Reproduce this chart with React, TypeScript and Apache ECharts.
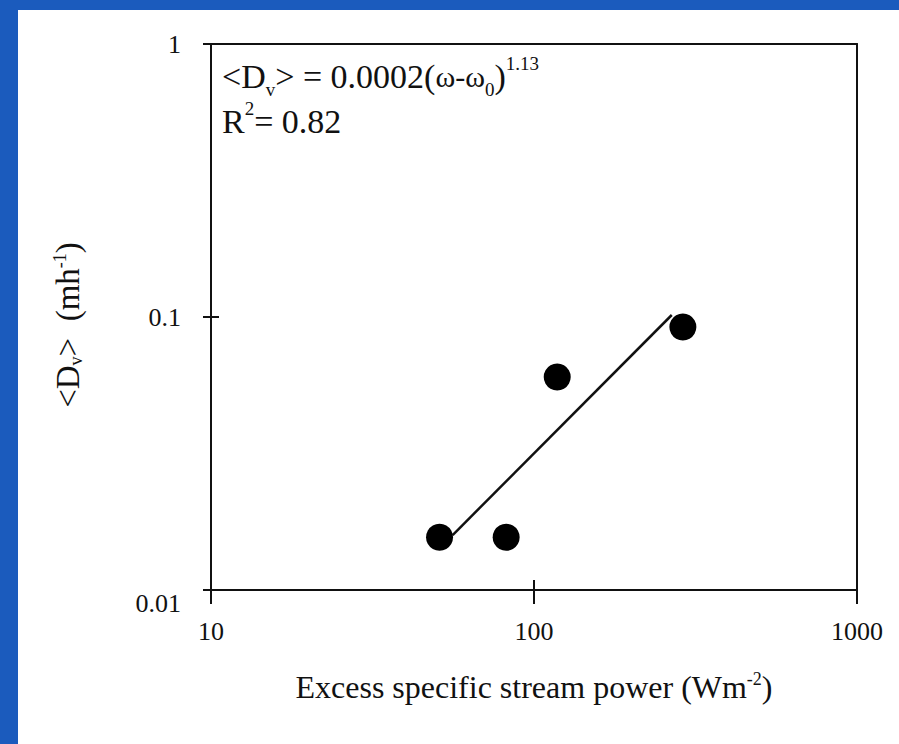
import React, { useEffect, useRef } from "react";
import * as echarts from "echarts";

const xTicks = [10, 100, 1000];
const yTicks = [0.01, 0.1, 1];
const xTickLabels = ["10", "100", "1000"];
const yTickLabels = ["0.01", "0.1", "1"];
const pointsX = [51, 82, 118, 289];
const pointsY = [0.0156, 0.0156, 0.0603, 0.0919];
const fitX = [56, 267];
const fitY = [0.0159, 0.1017];

const FONT = "Liberation Serif";

export default function App() {
  const ref = useRef<HTMLDivElement>(null);
  useEffect(() => {
    if (!ref.current) return;
    const chart = echarts.init(ref.current, null, { renderer: "svg" });
    const fmtX = (v: number) => {
      const i = xTicks.findIndex((t) => Math.abs(Math.log10(t) - Math.log10(v)) < 1e-6);
      return i >= 0 ? xTickLabels[i] : "";
    };
    const fmtY = (v: number) => {
      const i = yTicks.findIndex((t) => Math.abs(Math.log10(t) - Math.log10(v)) < 1e-6);
      return i >= 0 ? yTickLabels[i] : "";
    };
    const lineCol = "#111111";
    const baseLog = {
      type: "log",
      logBase: 10,
      splitLine: { show: false },
      minorTick: { show: false },
    };
    chart.setOption({
      animation: false,
      backgroundColor: "#ffffff",
      grid: { left: 193, right: 42, top: 34, bottom: 154, containLabel: false },
      xAxis: [
        {
          ...baseLog,
          position: "bottom",
          min: 10,
          max: 1000,
          axisLine: { show: true, onZero: false, lineStyle: { color: lineCol, width: 2 } },
          axisTick: { show: true, inside: false, length: 14, lineStyle: { color: lineCol, width: 2 } },
          axisLabel: {
            formatter: fmtX,
            fontFamily: FONT,
            fontSize: 26,
            color: "#111",
            margin: 28,
          },
          name: "{a|Excess specific stream power (Wm}{p|-2}{a|)}",
          nameLocation: "middle",
          nameGap: 80,
          nameTextStyle: {
            rich: {
              a: { fontFamily: FONT, fontSize: 32, color: "#111", lineHeight: 34 },
              p: { fontFamily: FONT, fontSize: 18, color: "#111", lineHeight: 34, verticalAlign: "top" },
            },
          },
        },
        {
          ...baseLog,
          position: "bottom",
          min: 10,
          max: 1000,
          axisLine: { show: false, onZero: false },
          axisTick: { show: true, inside: true, length: 10, lineStyle: { color: lineCol, width: 2 } },
          axisLabel: { show: false },
        },
        {
          ...baseLog,
          position: "top",
          min: 10,
          max: 1000,
          axisLine: { show: true, onZero: false, lineStyle: { color: lineCol, width: 2 } },
          axisTick: { show: false },
          axisLabel: { show: false },
        },
      ],
      yAxis: [
        {
          ...baseLog,
          position: "left",
          min: 0.01,
          max: 1,
          axisLine: { show: true, onZero: false, lineStyle: { color: lineCol, width: 2 } },
          axisTick: { show: true, inside: false, length: 8, lineStyle: { color: lineCol, width: 2 } },
          axisLabel: {
            formatter: fmtY,
            fontFamily: FONT,
            fontSize: 26,
            color: "#111",
            margin: 30,
            verticalAlignMinLabel: "top",
          },
          name: "{a|<D}{s|v}{a|>  (mh}{p|-1}{a|)}",
          nameLocation: "middle",
          nameRotate: 90,
          nameGap: 126,
          nameTextStyle: {
            padding: [0, 16, 0, 0],
            rich: {
              a: { fontFamily: FONT, fontSize: 33, color: "#111", lineHeight: 34 },
              s: { fontFamily: FONT, fontSize: 18, color: "#111", lineHeight: 34, verticalAlign: "bottom" },
              p: { fontFamily: FONT, fontSize: 18, color: "#111", lineHeight: 34, verticalAlign: "top" },
            },
          },
        },
        {
          ...baseLog,
          position: "left",
          min: 0.01,
          max: 1,
          axisLine: { show: false, onZero: false },
          axisTick: { show: true, inside: true, length: 8, lineStyle: { color: lineCol, width: 2 } },
          axisLabel: { show: false },
        },
        {
          ...baseLog,
          position: "right",
          min: 0.01,
          max: 1,
          axisLine: { show: true, onZero: false, lineStyle: { color: lineCol, width: 2 } },
          axisTick: { show: false },
          axisLabel: { show: false },
        },
      ],
      graphic: [
        {
          type: "text",
          left: 204,
          top: 44,
          style: {
            text: "{a|<D}{s|v}{a|> = 0.0002(}{w|ω-ω}{s|0}{a|)}{p|1.13}\n{a|R}{p|2}{a|= 0.82}",
            rich: {
              a: { fontFamily: FONT, fontSize: 34, fill: "#111", lineHeight: 45 },
              w: { fontFamily: FONT, fontSize: 30, fill: "#111", lineHeight: 45 },
              s: { fontFamily: FONT, fontSize: 19, fill: "#111", lineHeight: 40, verticalAlign: "bottom" },
              p: { fontFamily: FONT, fontSize: 19, fill: "#111", lineHeight: 45, verticalAlign: "top" },
            },
          },
        },
      ],
      series: [
        {
          type: "line",
          xAxisIndex: 0,
          yAxisIndex: 0,
          data: fitX.map((x, i) => [x, fitY[i]]),
          symbol: "none",
          lineStyle: { color: "#111", width: 2.5 },
          z: 2,
        },
        {
          type: "scatter",
          xAxisIndex: 0,
          yAxisIndex: 0,
          data: pointsX.map((x, i) => [x, pointsY[i]]),
          symbol: "circle",
          symbolSize: 27,
          itemStyle: { color: "#000", opacity: 1 },
          z: 3,
        },
      ],
    });
    return () => chart.dispose();
  }, []);
  return (
    <div style={{ position: "fixed", left: 0, top: 0, width: 899, height: 744, background: "#1b5bbd" }}>
      <div ref={ref} style={{ position: "absolute", left: 18, top: 10, width: 881, height: 734 }} />
    </div>
  );
}
